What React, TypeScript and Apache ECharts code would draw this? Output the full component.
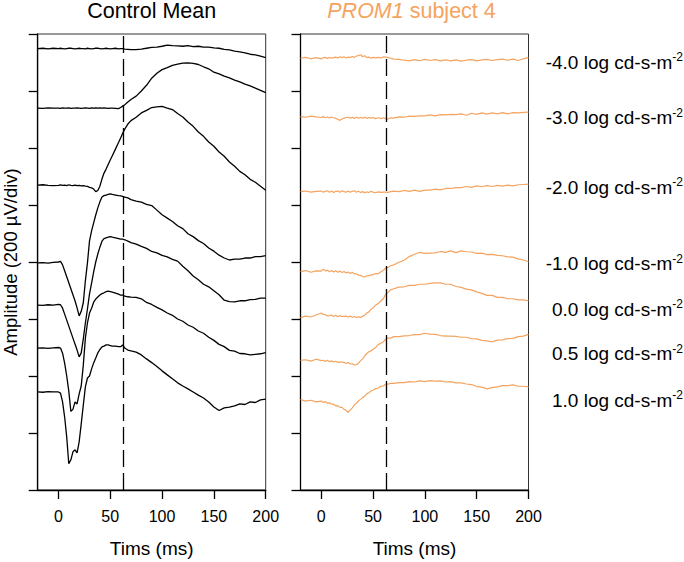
import React, { useEffect, useRef } from "react";
import * as echarts from "echarts";

// ---------- DATA ----------
// shared time base (ms)
const TIMES = [
  -20, -15, -10, -5,
  0, 2, 4, 6, 8, 10, 12, 14, 16, 18, 20, 22, 24, 26, 28, 30, 32, 34, 36, 38, 40, 42, 44, 46, 48, 50, 52,
  55, 58, 60, 62, 64, 67, 70,
  75, 80, 85, 90, 95, 100, 105, 110, 115, 120, 125, 130, 135, 140, 145, 150, 155, 160, 165, 170, 175, 180, 185, 190, 195, 200,
];

// Control mean responses (µV relative to each trace's baseline)
const CONTROL_M40 = [
  0, 1, -1, 1,
  0, 1, 0, -1, 0, 1, 1, 0, -1, 0, 1, 0, 0, -1, 1, 0, -1, 0, 1, 1, 0, -1, 0, 1, 0, -1, 0,
  1, -1, 0, 0, -2, -3, -4,
  -4, -2, 1, 4, 5, 8, 12, 10, 9, 8, 10, 7, 8, 5, 5, 2, 1, -3, -5, -9, -12, -15, -20, -22, -27, -32,
];
const CONTROL_M30 = [
  0, -1, 1, 0,
  0, -1, 1, 0, 0, 1, -1, 0, 0, 1, 0, -1, 0, 1, 0, -1, 1, 0, 1, 0, 1, 0, 1, 0, -1, 0, 0,
  -1, -2, 2, 7, 12, 21, 30,
  42, 60, 80, 105, 122, 135, 142, 150, 154, 158, 159, 157, 153, 145, 138, 126, 120, 112, 106, 98, 92, 84, 78, 70, 62, 54,
];
const CONTROL_M20 = [
  0, 1, -1, -2,
  -1, 1, -1, 0, -2, 1, -1, -2, 0, -2, -1, -3, -2, -4, -5, -8, -10, -14, -23, -19, -4, 21, 42, 56, 72, 88, 103,
  126, 149, 165, 182, 196, 214, 226,
  238, 253, 262, 272, 274, 276, 270, 265, 251, 239, 221, 206, 186, 171, 151, 136, 116, 101, 81, 66, 48, 36, 20, 10, -4, -18,
];
const CONTROL_M10 = [
  0, 1, -1, 2,
  3, 5, -7, -28, -49, -70, -91, -112, -133, -158, -186, -170, -140, -63, 0, 77, 112, 140, 168, 193, 214, 231, 236, 238, 240, 242, 240,
  238, 236, 235, 233, 231, 228, 222,
  217, 213, 205, 201, 185, 169, 157, 145, 130, 120, 102, 92, 78, 68, 52, 41, 27, 17, 10, 13, 13, 17, 17, 22, 22, 25,
];
const CONTROL_00 = [
  0, -1, 1, 0,
  2, 1, -11, -32, -53, -74, -95, -116, -137, -158, -182, -168, -119, -63, -14, 39, 77, 116, 151, 179, 203, 224, 233, 236, 238, 240, 238,
  236, 233, 231, 231, 229, 224, 219,
  214, 206, 199, 188, 183, 174, 169, 160, 154, 136, 120, 102, 89, 73, 64, 50, 36, 17, 12, 11, 15, 15, 19, 20, 24, 24,
];
const CONTROL_05 = [
  0, 1, -1, 1,
  2, 0, -18, -53, -98, -151, -222, -215, -189, -196, -161, -133, -60, 35, 88, 123, 140, 161, 172, 179, 186, 191, 194, 198, 200, 198, 196,
  193, 189, 186, 186, 182, 180, 179,
  178, 173, 160, 153, 143, 134, 123, 115, 102, 94, 81, 73, 60, 52, 38, 27, 13, 5, -8, -11, -19, -20, -24, -22, -20, -16,
];
const CONTROL_10 = [
  0, -1, 1, 0,
  0, -4, -35, -88, -158, -252, -238, -210, -203, -214, -175, -112, -46, 18, 49, 56, 81, 102, 119, 137, 149, 158, 161, 165, 165, 163, 161,
  161, 159, 159, 165, 154, 147, 144,
  140, 130, 116, 103, 89, 74, 60, 46, 32, 21, 11, 0, -11, -21, -35, -53, -65, -56, -53, -49, -42, -44, -35, -37, -28, -25,
];

// PROM1 subject 4 responses (µV relative to each trace's baseline)
const PROM1_M40 = [
  0, 3, -2, 2,
  -2, 2, 3, -1, 3, 0, 2, 4, 1, 5, 2, 5, 1, 4, 3, 6, 3, 8, 9, 12, 5, 9, 2, 4, 0, 3, 1,
  3, 1, 5, 4, 3, 0, -3,
  -4, -7, -9, -5, -9, -4, -8, -5, -9, -6, -9, -6, -10, -7, -5, -9, -6, -4, -8, -5, -3, -7, -3, -8, -2, 2,
];
const PROM1_M30 = [
  0, -2, 2, -1,
  -3, 0, -4, -1, -5, -1, -4, -6, -9, -13, -8, -5, -3, -2, -5, -2, -6, -2, -5, -3, -5, -2, -6, -3, -5, -3, -7,
  -4, -7, -4, -7, -9, -4, -5,
  -1, -2, 2, 1, 3, 3, 6, 3, 7, 6, 8, 7, 10, 5, 12, 8, 13, 9, 13, 10, 14, 10, 14, 13, 15, 16,
];
const PROM1_M20 = [
  0, 2, -2, 1,
  2, -2, 1, 3, -2, 2, -3, 1, 2, -2, 3, 0, -2, 2, -2, 1, 3, -2, 1, -3, 0, -4, -1, -3, 1, -2, -4,
  -1, -3, -2, -2, -3, 0, 2,
  0, 4, 1, 5, 1, 5, 5, 9, 6, 11, 11, 14, 14, 18, 15, 20, 17, 21, 18, 22, 19, 23, 20, 24, 25, 26,
];
const PROM1_M10 = [
  0, 4, -2, 3,
  2, 9, 3, 5, 0, 4, -1, 3, -2, 2, -3, 1, -4, -1, -6, -2, -8, -8, -12, -13, -17, -18, -15, -14, -11, -11, -7,
  -7, 1, 4, 13, 14, 21, 24,
  33, 40, 53, 61, 68, 64, 65, 66, 71, 68, 73, 67, 73, 70, 69, 64, 65, 60, 61, 57, 56, 52, 51, 45, 41, 35,
];
const PROM1_00 = [
  -6, -1, -4, 3,
  10, 5, 4, 0, 1, 3, -2, 2, -3, 1, -2, -2, -1, -4, -1, -5, -2, -6, -3, -6, -1, 2, 10, 14, 23, 28, 36,
  43, 54, 61, 75, 81, 91, 95,
  101, 102, 107, 107, 111, 111, 114, 116, 116, 111, 111, 103, 100, 94, 91, 84, 79, 72, 72, 65, 65, 60, 60, 56, 56, 53,
];
const PROM1_05 = [
  2, 4, -1, 6,
  1, 2, -2, 2, -3, 0, -4, -1, -5, -4, -4, -5, -9, -6, -11, -10, -14, -13, -8, 1, 7, 18, 26, 32, 35, 41, 45,
  57, 63, 67, 75, 80, 80, 85,
  85, 88, 89, 92, 92, 97, 94, 93, 89, 87, 87, 86, 83, 83, 78, 77, 72, 70, 67, 73, 74, 78, 79, 85, 87, 93,
];
const PROM1_10 = [
  5, 0, 3, -3,
  0, -5, -2, -7, -6, -11, -11, -17, -16, -22, -22, -29, -32, -40, -31, -24, -13, -8, 1, 6, 13, 17, 26, 29, 36, 38, 43,
  46, 53, 53, 59, 59, 62, 62,
  65, 65, 68, 67, 71, 68, 72, 70, 71, 67, 68, 64, 64, 60, 58, 51, 49, 43, 47, 50, 54, 54, 57, 52, 52, 50,
];

const CONTROL_TRACES = [CONTROL_M40, CONTROL_M30, CONTROL_M20, CONTROL_M10, CONTROL_00, CONTROL_05, CONTROL_10];
const PROM1_TRACES = [PROM1_M40, PROM1_M30, PROM1_M20, PROM1_M10, PROM1_00, PROM1_05, PROM1_10];
// vertical offsets of traces (µV on the display axis)
const CONTROL_OFFSETS = [1549, 1340, 1070, 797, 649, 498, 344];
const PROM1_OFFSETS = [1515, 1310, 1047, 766, 611, 453, 312];

const INTENSITIES = ["-4.0", "-3.0", "-2.0", "-1.0", "0.0", "0.5", "1.0"];
const X_TICKS = [0, 50, 100, 150, 200];
const X_MIN = -20;
const X_MAX = 200;
const Y_MIN = 0;
const Y_MAX = 1600;
const Y_STEP = 200;
const STIMULUS_MS = 62.5;

// ---------- LAYOUT ----------
const W = 684;
const H = 562;
const GRID_TOP = 34;
const GRID_H = 456;
const GRID_W = 228;
const LEFT_X = 37.7;
const RIGHT_X = 300.5;
const LABEL_RIGHT = 683;
const LABEL_Y = [62, 117.5, 187, 263.5, 309, 353.5, 400];
const ORANGE = "#F4A460";
const FONT = "'Liberation Sans', Arial, Helvetica, sans-serif";

export default function App() {
  const ref = useRef<HTMLDivElement>(null);

  useEffect(() => {
    if (!ref.current) return;
    const chart = echarts.init(ref.current, null, { renderer: "svg" });

    const axisColor = "#000";
    const makeX = (gridIndex: number) => ({
      type: "value",
      gridIndex,
      min: X_MIN,
      max: X_MAX,
      axisLine: { show: true, onZero: false, lineStyle: { color: axisColor, width: 1.3 } },
      axisTick: { show: true, length: 9, customValues: X_TICKS, lineStyle: { color: axisColor, width: 1.3 } },
      axisLabel: {
        show: true,
        customValues: X_TICKS,
        margin: 18,
        fontSize: 16,
        color: "#000",
        fontFamily: FONT,
        formatter: (v: number) => (X_TICKS.indexOf(v) >= 0 ? String(v) : ""),
      },
      splitLine: { show: false },
    });
    const makeY = (gridIndex: number) => ({
      type: "value",
      gridIndex,
      min: Y_MIN,
      max: Y_MAX,
      interval: Y_STEP,
      axisLine: { show: true, onZero: false, lineStyle: { color: axisColor, width: 1.3 } },
      axisTick: { show: true, length: 9, lineStyle: { color: axisColor, width: 1.3 } },
      axisLabel: { show: false },
      splitLine: { show: false },
    });

    const stimLine = {
      silent: true,
      symbol: ["none", "none"],
      label: { show: false },
      lineStyle: { color: "#000", width: 1.3, type: [17, 6] },
      data: [{ xAxis: STIMULUS_MS }],
    };

    const series: any[] = [];
    CONTROL_TRACES.forEach((vals, k) => {
      series.push({
        type: "line",
        xAxisIndex: 0,
        yAxisIndex: 0,
        data: TIMES.map((t, i) => [t, CONTROL_OFFSETS[k] + vals[i]]),
        showSymbol: false,
        symbol: "none",
        silent: true,
        clip: true,
        lineStyle: { color: "#000", width: 1.3 },
        markLine: k === 0 ? stimLine : undefined,
      });
    });
    PROM1_TRACES.forEach((vals, k) => {
      series.push({
        type: "line",
        xAxisIndex: 1,
        yAxisIndex: 1,
        data: TIMES.map((t, i) => [t, PROM1_OFFSETS[k] + vals[i]]),
        showSymbol: false,
        symbol: "none",
        silent: true,
        clip: true,
        lineStyle: { color: ORANGE, width: 1.2 },
        markLine: k === 0 ? stimLine : undefined,
      });
    });

    const graphics: any[] = [
      {
        type: "text",
        x: LEFT_X + GRID_W / 2,
        y: 11,
        style: { text: "Control Mean", fontSize: 21.5, fontFamily: FONT, fill: "#000", align: "center", verticalAlign: "middle" },
      },
      {
        type: "text",
        x: RIGHT_X + GRID_W / 2 - 3,
        y: 11,
        style: {
          text: "{i|PROM1} subject 4",
          fontSize: 21.5,
          fontFamily: FONT,
          fill: ORANGE,
          align: "center",
          verticalAlign: "middle",
          rich: { i: { fontStyle: "italic", fontSize: 21.5, fontFamily: FONT, fill: ORANGE } },
        },
      },
      {
        type: "text",
        x: 10.5,
        y: GRID_TOP + GRID_H / 2,
        rotation: Math.PI / 2,
        style: { text: "Amplitude (200 µV/div)", fontSize: 18.5, fontFamily: FONT, fill: "#000", align: "center", verticalAlign: "middle" },
      },
      {
        type: "text",
        x: LEFT_X + GRID_W / 2,
        y: 548,
        style: { text: "Tims (ms)", fontSize: 19, fontFamily: FONT, fill: "#000", align: "center", verticalAlign: "middle" },
      },
      {
        type: "text",
        x: RIGHT_X + GRID_W / 2,
        y: 548,
        style: { text: "Tims (ms)", fontSize: 19, fontFamily: FONT, fill: "#000", align: "center", verticalAlign: "middle" },
      },
    ];
    INTENSITIES.forEach((lab, k) => {
      graphics.push({
        type: "text",
        x: LABEL_RIGHT,
        y: LABEL_Y[k],
        style: {
          text: `{a|${lab} log cd-s-m}{s|-2}`,
          align: "right",
          verticalAlign: "middle",
          rich: {
            a: { fontSize: 19, fontFamily: FONT, fill: "#000" },
            s: { fontSize: 12, fontFamily: FONT, fill: "#000", padding: [0, 0, 10, 0] },
          },
        },
      });
    });

    chart.setOption({
      animation: false,
      backgroundColor: "#fff",
      grid: [
        { left: LEFT_X, top: GRID_TOP, width: GRID_W, height: GRID_H, show: true, borderColor: "#333", borderWidth: 1, backgroundColor: "transparent" },
        { left: RIGHT_X, top: GRID_TOP, width: GRID_W, height: GRID_H, show: true, borderColor: "#333", borderWidth: 1, backgroundColor: "transparent" },
      ],
      xAxis: [makeX(0), makeX(1)],
      yAxis: [makeY(0), makeY(1)],
      series,
      graphic: graphics,
    });

    return () => chart.dispose();
  }, []);

  return (
    <div
      ref={ref}
      style={{ position: "fixed", left: 0, top: 0, width: W, height: H, background: "#fff" }}
    />
  );
}
